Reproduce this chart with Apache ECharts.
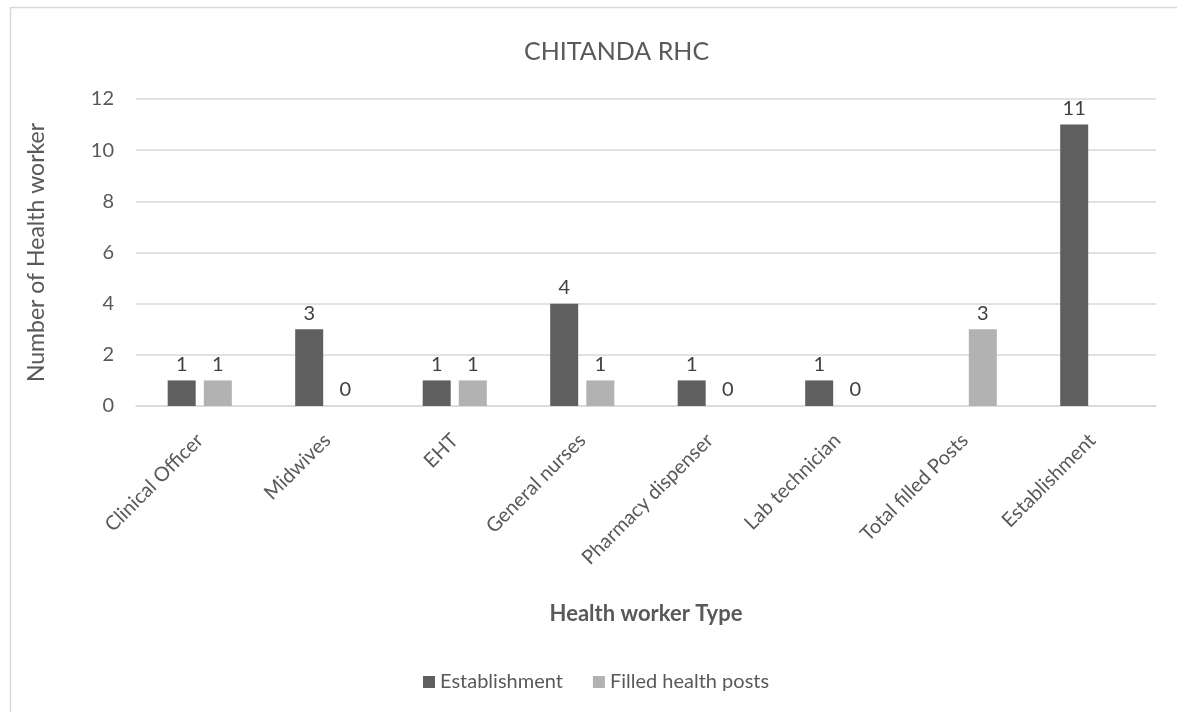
<!DOCTYPE html>
<html><head><meta charset="utf-8">
<script src="https://cdn.jsdelivr.net/npm/echarts@6/dist/echarts.min.js"></script>
<style>html,body{margin:0;padding:0;background:#fff}#c{width:1177px;height:712px}</style>
</head><body><div id="c"></div>
<script>
const categories = ['Clinical Officer','Midwives','EHT','General nurses','Pharmacy dispenser','Lab technician','Total filled Posts','Establishment'];
const establishment = [1,3,1,4,1,1,null,11];
const filled = [1,0,1,1,0,0,3,null];
const yTicks = {min:0,max:12,interval:2};
const FONT = 'Lato, "Open Sans", sans-serif';
const chart = echarts.init(document.getElementById('c'));
const lbl = {show:true,position:'top',distance:6,color:'#404040',fontSize:20,fontFamily:FONT};
chart.setOption({
  backgroundColor:'#fff',
  animation:false,
  textStyle:{fontFamily:FONT},
  graphic:[{type:'rect',shape:{x:10.5,y:7.5,width:1250,height:800},style:{fill:'none',stroke:'#d9d9d9',lineWidth:1.5},silent:true}],
  title:{text:'CHITANDA RHC',left:519,top:34,textStyle:{color:'#595959',fontSize:25,fontWeight:'normal',fontFamily:FONT}},
  grid:{left:136,right:21,top:99,bottom:306,containLabel:false},
  legend:{top:667,left:418,itemWidth:12,itemHeight:12,itemGap:30,icon:'rect',textStyle:{color:'#595959',fontSize:20,fontFamily:FONT},data:['Establishment','Filled health posts']},
  xAxis:{type:'category',data:categories,
    axisLine:{lineStyle:{color:'#d9d9d9',width:1.5}},axisTick:{show:false},
    axisLabel:{rotate:45,interval:0,color:'#595959',fontSize:20,fontFamily:FONT,margin:31},
    name:'Health worker Type',nameLocation:'middle',nameGap:197,
    nameTextStyle:{color:'#595959',fontSize:22,fontWeight:'bold',fontFamily:FONT}},
  yAxis:{type:'value',min:yTicks.min,max:yTicks.max,interval:yTicks.interval,
    axisLine:{show:false},axisTick:{show:false},
    axisLabel:{color:'#595959',fontSize:20,fontFamily:FONT,margin:22},
    splitLine:{lineStyle:{color:'#d9d9d9',width:1.5}},
    name:'Number of Health worker',nameLocation:'middle',nameGap:88,
    nameTextStyle:{color:'#595959',fontSize:23,fontFamily:FONT}},
  series:[
    {name:'Establishment',type:'bar',data:establishment,itemStyle:{color:'#5f5f5f'},barWidth:28,barGap:'29%',label:lbl},
    {name:'Filled health posts',type:'bar',data:filled,itemStyle:{color:'#b2b2b2'},barWidth:28,label:lbl}
  ]
});
</script></body></html>
